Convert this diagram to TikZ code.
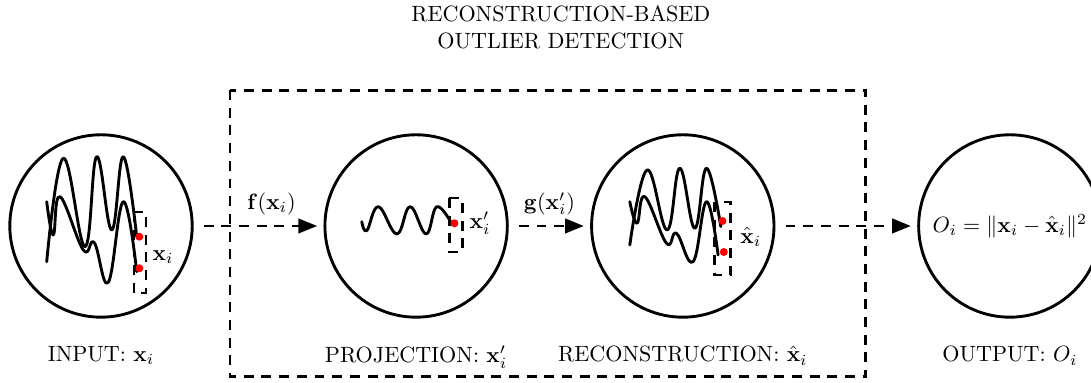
\documentclass[tikz,border=0pt]{standalone}
\usepackage{amsmath, amssymb, bm}
\usetikzlibrary{arrows.meta, positioning}
\tikzset{
  stage/.style={draw, circle, minimum size=2.9cm, inner sep=0pt},
  dashline/.style={dash pattern=on 4.5pt off 3.5pt},
  flow/.style={dashline, -{Triangle[length=8.5pt, width=6.5pt]},
    shorten <=1.6mm, shorten >=1mm},
  signal/.style={line join=round, line cap=round}
}

\begin{document}
\begin{tikzpicture}[line width=1.3pt]
  \useasboundingbox (-1.606,-2.496) rectangle (15.74,3.593);
  \node[align=center] (title) at (7.31,3.155) {RECONSTRUCTION-BASED\\OUTLIER DETECTION};
  \draw[dashline] (2.05,2.16) rectangle (12.16,-2.40);

  \node[stage] (in) at (0,0) {};
  \node[stage] (proj) at (5.01,0) {};
  \node[stage] (rec) at (9.25,0) {};
  \node[stage] (out) at (14.45,0) {$O_i = \|\mathbf{x}_i - \hat{\mathbf{x}}_i\|^2$};

  \node[below=3mm of in] (inlab) {INPUT: $\mathbf{x}_i$};
  \node[below=3mm of proj] (projlab) {PROJECTION: $\mathbf{x}'_i$};
  \node[below=3mm of rec] (reclab) {RECONSTRUCTION: $\hat{\mathbf{x}}_i$};
  \node[below=3mm of out] (outlab) {OUTPUT: $O_i$};

  \draw[flow] (in) -- (proj) node[pos=0.6, above=1pt]{$\mathbf{f}(\mathbf{x}_i)$};
  \draw[flow] (proj) -- (rec) node[midway, above=1pt]{$\mathbf{g}(\mathbf{x}'_i)$};
  \draw[flow] (rec) -- (out);

  % input signal
  \begin{scope}[shift={(in.center)}, scale=0.0159]
    \draw[signal] plot[smooth, tension=0.7] coordinates {(-54.3,-35.7) (-37.7,67.7) (-16,-20.7) (-4.3,69.3) (10.7,-4) (22.3,69.3) (35.7,-10.7)};
    \draw[signal] plot[smooth, tension=0.7] coordinates {(-54.3,24.3) (-47.7,-9) (-41,29.3) (-17.7,-24) (-6.7,-16.7) (7.3,-56.3) (22.3,24.3) (35.7,-45.7)};
    \draw[dashline] (33,14) rectangle (45,-67);
    \fill[red] (38.3,-10.7) circle (4);
    \fill[red] (38.3,-42.3) circle (4);
    \node (inx) at (62,-31) {$\mathbf{x}_i$};
  \end{scope}

  % projected signal
  \begin{scope}[shift={(proj.center)}, scale=0.0159]
    \draw[signal] plot[smooth, tension=0.7] coordinates {(-54.3,4.3) (-49.3,-4.7) (-37.7,19.3) (-19.3,-8) (-6,19.3) (10,-8) (20.7,19.3) (35.7,2)};
    \draw[dashline] (33,28) rectangle (46,-26);
    \fill[red] (38.3,2.7) circle (4);
    \node (projx) at (64,3) {$\mathbf{x}'_i$};
  \end{scope}

  % reconstructed signal
  \begin{scope}[shift={(rec.center)}, scale=0.0159]
    \draw[signal] plot[smooth, tension=0.7] coordinates {(-53,-19) (-35.7,56) (-15.7,-4) (-3,57.7) (12,-2.3) (23.7,57.7) (38,-0.7)};
    \draw[signal] plot[smooth, tension=0.7] coordinates {(-53,24.3) (-45.7,2.7) (-38,29.3) (-16.3,-17.3) (-6.3,-7.3) (10.3,-35.7) (23.7,24.3) (35.3,-29)};
    \draw[dashline] (32,24) rectangle (48,-49);
    \fill[red] (39.7,5) circle (4);
    \fill[red] (41,-26) circle (4);
    \node (recx) at (68,-11) {$\hat{\mathbf{x}}_i$};
  \end{scope}
\end{tikzpicture}
\end{document}
